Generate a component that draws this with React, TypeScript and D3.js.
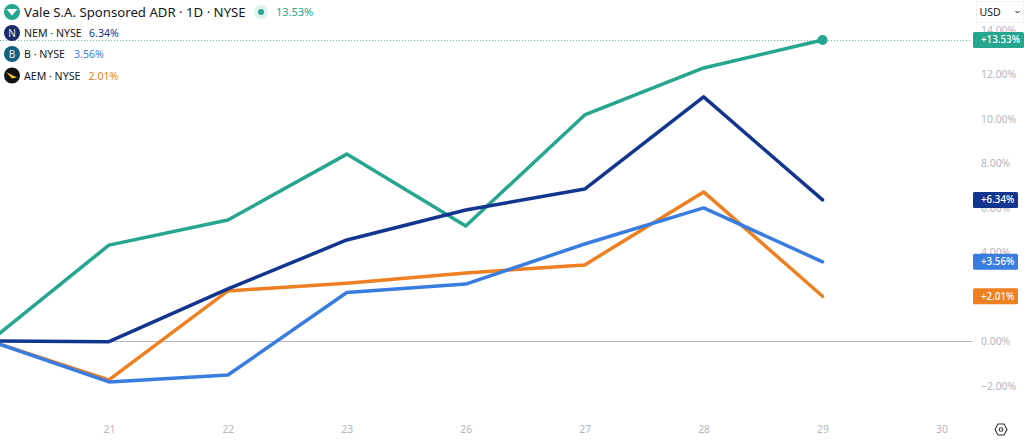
import React from "react";
import * as d3 from "d3";

const dayLabels = ["20", "21", "22", "23", "26", "27", "28", "29", "30"];
const valeValues = [0, 4.31, 5.44, 8.4, 5.17, 10.16, 12.27, 13.53];
const nemValues = [0, -0.03, 2.34, 4.54, 5.89, 6.83, 10.97, 6.34];
const bValues = [0, -1.84, -1.53, 2.18, 2.56, 4.36, 5.98, 3.56];
const aemValues = [0, -1.75, 2.25, 2.6, 3.06, 3.42, 6.7, 2.01];
const yTicks = [14, 12, 10, 8, 6, 4, 2, 0, -2];

const colors = { vale: "#26a68e", nem: "#12368f", b: "#3a7de0", aem: "#ee8022" };
const font = "'Noto Sans', sans-serif";

const x = d3.scaleLinear().domain([0, 8]).range([-10, 941.5]);
const y = d3.scaleLinear().domain([0, 12]).range([341, 74]);
const line = d3.line<number>().x((_, i) => x(i)).y((d) => y(d));

const series = [
  { v: valeValues, c: colors.vale },
  { v: aemValues, c: colors.aem },
  { v: bValues, c: colors.b },
  { v: nemValues, c: colors.nem },
];
const tags = [
  { v: 13.53, c: colors.vale, w: 51 },
  { v: 6.34, c: colors.nem, w: 45 },
  { v: 3.56, c: colors.b, w: 45 },
  { v: 2.01, c: colors.aem, w: 45 },
];
const legendRows = [
  { t: "NEM · NYSE", p: "6.34%", c: colors.nem, bg: "#1a2a6c", g: "N", y: 33, px: 89 },
  { t: "B · NYSE", p: "3.56%", c: colors.b, bg: "#12607f", g: "B", y: 54, px: 74 },
  { t: "AEM · NYSE", p: "2.01%", c: colors.aem, bg: "#111111", g: "", y: 75.5, px: 88.5 },
];
const pct = (d: number) => `${d < 0 ? "−" : ""}${Math.abs(d).toFixed(2)}%`;

export default function App() {
  return (
    <svg width={1024} height={440} style={{ position: "absolute", left: 0, top: 0, background: "#fff", fontFamily: font }}>
      {yTicks.map((t) => (
        <text key={t} x={981} y={y(t) + 4} fontSize={10.4} fill="#b4b6bd">{pct(t)}</text>
      ))}
      {dayLabels.slice(1).map((d, i) => (
        <text key={d} x={x(i + 1) + 0.5} y={433} textAnchor="middle" fontSize={10.4} fill="#b4b6bd">{d}</text>
      ))}
      <line x1={0} x2={972} y1={y(0) + 0.5} y2={y(0) + 0.5} stroke="#b4b5b8" strokeWidth={1} />
      <line x1={0} x2={972} y1={Math.round(y(13.53)) + 0.5} y2={Math.round(y(13.53)) + 0.5} stroke="#5fc4b2" strokeWidth={1} strokeDasharray="1 2" />
      {series.map((s) => (
        <path key={s.c} d={line(s.v) ?? ""} fill="none" stroke={s.c} strokeWidth={3.5} strokeLinejoin="round" strokeLinecap="round" />
      ))}
      <circle cx={x(7)} cy={y(13.53)} r={5} fill={colors.vale} />

      {tags.map((t) => (
        <g key={t.c}>
          <rect x={973} y={y(t.v) - 8} width={t.w} height={16} rx={1.5} fill={t.c} />
          <text x={981} y={y(t.v) + 3.5} fontSize={9.8} fontWeight={500} fill="#fff">{`+${t.v.toFixed(2)}%`}</text>
        </g>
      ))}

      <rect x={976.5} y={1.5} width={47} height={21} fill="#fff" stroke="#f1f1f3" />
      <text x={979.5} y={16} fontSize={10.5} fill="#131722">USD</text>
      <path d="M1015.5 11 l2 2 l2 -2" fill="none" stroke="#131722" strokeWidth={1} />

      <circle cx={12} cy={12} r={8} fill={colors.vale} />
      <path d="M6.5 9 h11 l-5.5 6.5z" fill="#fff" />
      <text x={24} y={17} fontSize={13.2} fill="#131722">Vale S.A. Sponsored ADR · 1D · NYSE</text>
      <circle cx={261} cy={12} r={7} fill={colors.vale} opacity={0.15} />
      <circle cx={261} cy={12} r={3} fill={colors.vale} />
      <text x={276} y={16} fontSize={11} fill={colors.vale}>13.53%</text>

      {legendRows.map((r) => (
        <g key={r.t}>
          <circle cx={12} cy={r.y} r={8} fill={r.bg} />
          {r.g ? (
            <text x={12} y={r.y + 3.5} textAnchor="middle" fontSize={10} fill="#e8edf5">{r.g}</text>
          ) : (
            <path d={`M6 ${r.y - 3.5} L17 ${r.y + 2} L12 ${r.y + 3} Z`} fill="#f2c230" />
          )}
          <text x={24} y={r.y + 4} fontSize={10.6} fill="#131722">{r.t}</text>
          <text x={r.px} y={r.y + 4} fontSize={10.6} fill={r.c}>{r.p}</text>
        </g>
      ))}

      <path d="M995 429.5 L998 424 L1004 424 L1007 429.5 L1004 435 L998 435 Z" fill="none" stroke="#333" strokeWidth={1.1} />
      <circle cx={1001} cy={429.5} r={1.8} fill="none" stroke="#333" strokeWidth={1.1} />
    </svg>
  );
}
